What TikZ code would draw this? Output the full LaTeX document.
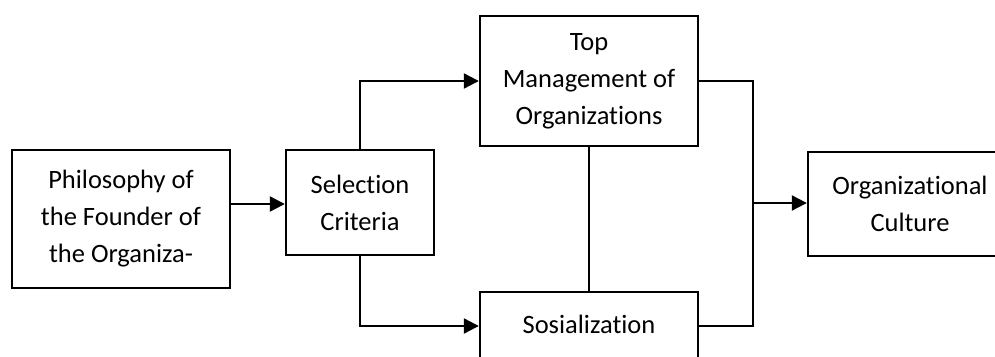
\documentclass[tikz,border=0pt]{standalone}
\usepackage{fontspec}
\setmainfont{Carlito}[Ligatures=NoCommon]
\usetikzlibrary{arrows.meta,calc}
\begin{document}
\begin{tikzpicture}[x=1pt,y=-1pt,
  box/.style={draw,line width=2.4pt,rectangle,inner sep=0pt,align=center,
    font=\fontsize{26.5}{37}\selectfont},
  arr/.style={line width=2.2pt,-{Triangle[length=15pt,width=15pt]}},
  thin/.style={line width=1.2pt}]
\useasboundingbox (0,0) rectangle (995,356);
\clip (0,0) rectangle (995,356);
\node[box,minimum width=218pt,minimum height=138pt] (phil) at (121,219) {Philosophy of\\the Founder of\\the Organiza-};
\node[box,minimum width=148pt,minimum height=105pt] (sel) at (360,202.5) {Selection\\Criteria};
\node[box,minimum width=218pt,minimum height=130pt] (top) at (589,81) {Top\\Management of\\Organizations};
\node[box,minimum width=218pt,minimum height=68pt] (soc) at (589,326) {\raisebox{4pt}{Sosialization}};
\node[box,minimum width=204pt,minimum height=104pt] (org) at (910,204) {Organizational\\Culture};
\coordinate (j) at (753,203);
\draw[arr] (phil.east |- 0,204) -- (sel.west |- 0,204);
\draw[arr] (sel.north) |- (top.west);
\draw[arr] (sel.south) |- (soc.west);
\draw[thin] (top.south) -- (soc.north);
\draw[thin] (top.east) -| (j) |- (soc.east);
\draw[arr] (j) -- (org.west |- j);
\end{tikzpicture}
\end{document}
